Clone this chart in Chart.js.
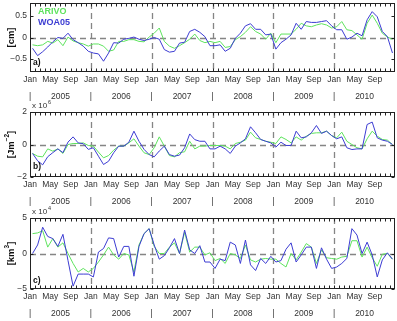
<!DOCTYPE html>
<html>
<head>
<meta charset="utf-8">
<script src="https://cdn.jsdelivr.net/npm/chart.js@4/dist/chart.umd.min.js"></script>
<style>
  body { margin: 0; background: #fff; }
  #wrap { position: relative; width: 397px; height: 321px; overflow: hidden; }
  canvas { position: absolute; left: 0; }
</style>
</head>
<body>
<div id="wrap">
  <canvas id="panelA" width="397" height="105" style="top:0px"></canvas>
  <canvas id="panelB" width="397" height="112" style="top:98px"></canvas>
  <canvas id="panelC" width="397" height="118" style="top:203px"></canvas>
</div>
<script>
// monthly values, Jan 2005 .. Dec 2010
const years = ['2005', '2006', '2007', '2008', '2009', '2010']
const monthLabels = ['Jan', 'May', 'Sep']

// a) sea level [cm]
const arivoA = [
  -0.17, -0.19, -0.17, -0.09, -0.13, -0.05, -0.19, 0.01, -0.08, -0.12, -0.15, -0.2,
  -0.15, -0.15, -0.2, -0.32, -0.29, -0.09, -0.09, -0.05, -0.05, -0.09, -0.1, 0.01,
  0.1, 0.22, -0.09, -0.2, -0.25, -0.19, -0.12, -0.04, 0.08, -0.07, -0.12, -0.09,
  -0.12, -0.09, -0.23, -0.21, -0.05, 0.02, 0.12, 0.25, 0.14, 0.08, -0.04, 0.1,
  -0.12, 0.08, 0.08, 0.08, 0.19, 0.33, 0.27, 0.25, 0.29, 0.32, 0.29, 0.22,
  0.25, 0.37, 0.18, 0.16, 0.06, -0.04, 0.33, 0.52, 0.33, 0.1, 0.01, -0.04
]
const woaA = [
  -0.25, -0.42, -0.33, -0.22, -0.1, 0.0, -0.02, 0.1, -0.05, -0.12, -0.2, -0.32,
  -0.36, -0.38, -0.55, -0.36, -0.12, -0.13, -0.04, -0.02, 0.01, -0.04, -0.07, -0.04,
  0.0, -0.04, -0.28, -0.34, -0.32, -0.13, -0.11, 0.14, 0.19, 0.12, 0.02, -0.19,
  -0.19, -0.17, -0.32, -0.25, -0.02, 0.1, 0.27, 0.32, 0.19, 0.19, 0.06, 0.08,
  -0.27, -0.12, -0.04, 0.06, 0.33, 0.19, 0.37, 0.35, 0.35, 0.37, 0.39, 0.27,
  0.18, 0.18, -0.04, 0.01, 0.1, 0.04, 0.41, 0.6, 0.48, 0.14, 0.02, -0.36
]

// b) heat content [J m^-2], x 10^6
const arivoB = [
  -0.55, -0.72, -0.76, -0.27, -0.41, -0.27, -0.55, 0.0, 0.06, 0.06, 0.1, -0.06,
  -0.1, -0.47, -0.82, -0.68, -0.35, -0.1, -0.1, 0.1, 0.35, -0.1, -0.51, -0.62,
  -0.2, 0.47, -0.1, -0.68, -0.76, -0.5, -0.45, 0.2, -0.27, -0.1, -0.1, -0.06,
  -0.06, -0.06, -0.1, -0.27, 0.06, 0.14, 0.27, 0.76, 0.41, 0.31, 0.2, 0.14,
  0.06, 0.47, 0.31, 0.1, 0.47, 0.27, 0.51, 0.68, 0.72, 0.72, 0.82, 0.55,
  0.41, 0.76, 0.2, 0.0, -0.2, -0.27, 0.35, 0.82, 0.51, 0.31, 0.27, 0.0
]
const woaB = [
  -0.55, -1.0, -1.25, -0.75, -0.5, -0.27, -0.5, 0.15, 0.47, 0.1, 0.05, -0.3,
  -0.2, -0.72, -1.23, -1.03, -0.51, -0.1, -0.1, 0.14, 0.82, 0.2, -0.3, -0.62,
  -0.76, -0.4, -0.1, -0.62, -0.72, -0.65, -0.2, 0.65, 0.3, 0.2, 0.2, -0.27,
  -0.27, -0.1, -0.27, -0.55, -0.1, 0.1, 0.35, 1.09, 0.72, 0.31, 0.2, 0.1,
  -0.16, 0.14, -0.06, -0.06, 0.82, 0.41, 0.47, 0.72, 1.17, 0.68, 0.82, 0.55,
  0.35, 0.47, -0.2, -0.31, -0.27, -0.27, 1.23, 1.38, 0.41, 0.27, 0.2, 0.0
]

// c) volume [km^3], x 10^4
const arivoC = [
  2.8, 2.9, 3.2, 0.9, 2.1, 0.9, 1.5, 0.0, -1.4, -2.6, -2.1, -2.6,
  -2.1, -1.2, -0.2, 0.9, -0.2, -0.8, 0.0, -0.2, -2.6, 1.2, 2.8, 3.5,
  1.0, 0.0, 0.0, 0.9, 1.5, 0.0, 3.0, 0.2, 0.9, 0.9, -0.2, 0.1,
  -1.0, -0.7, -1.4, 0.0, -0.2, -0.7, 1.2, -0.9, -1.2, -0.8, -0.7, -0.8,
  -0.8, -1.4, -1.9, 0.0, -0.9, 0.2, 1.4, 0.9, -1.4, 0.5, -0.6, -0.7,
  -0.8, -0.5, -0.4, 1.8, 1.8, -0.5, 0.9, -0.6, -1.8, -0.1, 0.0, -0.8
]
const woaC = [
  0.0, 1.2, 3.7, 2.4, 2.1, 1.0, 2.7, -1.0, -4.6, -2.9, -2.9, -2.9,
  -3.3, 0.2, 0.7, 2.2, 2.1, -0.5, 1.0, 1.0, -3.2, 1.0, 2.8, 3.5,
  1.2, -0.8, -0.3, 0.8, 2.1, 0.0, 3.3, 0.5, 0.0, 1.1, -1.2, -1.2,
  -2.1, -0.8, -1.0, 1.6, 1.2, -1.4, 1.9, -1.6, -2.4, -0.7, -1.4, -0.4,
  -1.2, -1.0, 0.6, 1.5, -1.2, -0.2, 0.9, 0.9, -2.1, 0.8, -0.8, -2.1,
  -1.9, -1.4, -0.7, 3.5, 2.6, 0.0, 1.6, -0.2, -3.3, -0.9, 0.1, -0.8
]

const GREEN = '#5ee35e'
const BLUE = '#3c3cd2'
const TEXT = '#333'
const FONT = '"Liberation Sans", Arial, sans-serif'

// axes box, inward ticks, dashed guides and all the text around a panel
const panelDecor = {
  id: 'panelDecor',
  beforeDatasetsDraw(chart, args, o) {
    const { ctx, chartArea: a, scales: { x, y } } = chart
    ctx.save()
    ctx.strokeStyle = '#858585'
    ctx.lineWidth = 1.3
    ctx.setLineDash([6, 4])
    const y0 = Math.round(y.getPixelForValue(0)) + 0.5
    ctx.beginPath(); ctx.moveTo(a.left, y0); ctx.lineTo(a.right, y0); ctx.stroke()
    for (let k = 1; k < years.length; k++) {
      const px = Math.round(x.getPixelForValue(k * 12)) + 0.5
      ctx.beginPath(); ctx.moveTo(px, a.top); ctx.lineTo(px, a.bottom); ctx.stroke()
    }
    ctx.restore()
  },
  afterDraw(chart, args, o) {
    const { ctx, chartArea: a, scales: { x, y } } = chart
    ctx.save()
    ctx.strokeStyle = '#222'
    ctx.lineWidth = 1
    const L = Math.round(a.left) + 0.5, R = Math.round(a.right) - 0.5
    const T = Math.round(a.top) + 0.5, B = Math.round(a.bottom) - 0.5
    ctx.strokeRect(L, T, R - L, B - T)
    ctx.beginPath()
    for (let m = 1; m < years.length * 12; m++) {
      const px = Math.round(x.getPixelForValue(m)) + 0.5
      ctx.moveTo(px, T); ctx.lineTo(px, T + 3)
      ctx.moveTo(px, B); ctx.lineTo(px, B - 3)
    }
    o.yTicks.forEach(v => {
      const py = Math.round(y.getPixelForValue(v)) + 0.5
      ctx.moveTo(L, py); ctx.lineTo(L + 3, py)
      ctx.moveTo(R, py); ctx.lineTo(R - 3, py)
    })
    ctx.stroke()

    ctx.fillStyle = TEXT
    ctx.font = '8.5px ' + FONT
    ctx.textAlign = 'right'
    ctx.textBaseline = 'middle'
    o.yTicks.forEach(v => {
      const s = String(v).replace('-', '\u2212')
      ctx.fillText(s, a.left - 3, y.getPixelForValue(v))
    })

    ctx.textAlign = 'center'
    for (let m = 0; m < years.length * 12; m += 4) {
      ctx.fillText(monthLabels[(m % 12) / 4], x.getPixelForValue(m), a.bottom + 8)
    }
    const yr = a.bottom + 25
    years.forEach((label, k) => {
      ctx.fillText('|', x.getPixelForValue(k * 12), yr)
      ctx.fillText(label, x.getPixelForValue(k * 12 + 6), yr)
    })

    if (o.exp) {
      ctx.textAlign = 'left'
      ctx.font = '8px ' + FONT
      ctx.fillText('x 10', a.left + 2, a.top - 6)
      const w = ctx.measureText('x 10').width
      ctx.font = '5.5px ' + FONT
      ctx.fillText(o.exp, a.left + 3 + w, a.top - 10)
    }

    // rotated unit label with superscript
    ctx.save()
    ctx.translate(11, (a.top + a.bottom) / 2)
    ctx.rotate(-Math.PI / 2)
    ctx.fillStyle = '#111'
    const big = 'bold 9.5px ' + FONT, small = 'bold 6.5px ' + FONT
    ctx.font = big
    const w1 = ctx.measureText(o.unit[0]).width, w3 = ctx.measureText(']').width
    ctx.font = small
    const w2 = o.unit[1] ? ctx.measureText(o.unit[1]).width : 0
    let cx = -(w1 + w2 + w3) / 2
    ctx.textAlign = 'left'
    ctx.font = big
    ctx.fillText(o.unit[0], cx, 0); cx += w1
    if (o.unit[1]) {
      ctx.font = small
      ctx.fillText(o.unit[1], cx, -4); cx += w2
    }
    ctx.font = big
    ctx.fillText(']', cx, 0)
    ctx.restore()

    ctx.textAlign = 'left'
    ctx.fillStyle = '#111'
    ctx.font = 'bold 8.5px ' + FONT
    ctx.fillText(o.letter, a.left + 3, a.bottom - o.letterOff)

    if (o.legend) {
      ctx.font = 'bold 9px ' + FONT
      ctx.fillStyle = GREEN
      ctx.fillText('ARIVO', a.left + 8, a.top + 9)
      ctx.fillStyle = BLUE
      ctx.fillText('WOA05', a.left + 8, a.top + 20)
    }
    ctx.restore()
  }
}

function makePanel(id, arivo, woa, range, pad, decor) {
  const toPts = arr => arr.map((v, i) => ({ x: i + 0.5, y: v }))
  return new Chart(document.getElementById(id), {
    type: 'line',
    data: {
      datasets: [
        { label: 'WOA05', data: toPts(woa), borderColor: BLUE, borderWidth: 1, pointRadius: 0, tension: 0 },
        { label: 'ARIVO', data: toPts(arivo), borderColor: GREEN, borderWidth: 1, pointRadius: 0, tension: 0 }
      ]
    },
    options: {
      responsive: false,
      animation: false,
      layout: { padding: pad },
      plugins: { legend: { display: false }, tooltip: { enabled: false }, panelDecor: decor },
      scales: {
        x: { type: 'linear', min: 0, max: years.length * 12, display: false },
        y: { min: range[0], max: range[1], display: false }
      }
    },
    plugins: [panelDecor]
  })
}

makePanel('panelA', arivoA, woaA, [-0.8, 0.8],
  { left: 30, right: 2, top: 3, bottom: 33 },
  { yTicks: [-0.5, 0, 0.5], unit: ['[cm', ''], letter: 'a)', letterOff: 9, legend: true })
makePanel('panelB', arivoB, woaB, [-2, 2],
  { left: 30, right: 2, top: 14, bottom: 33 },
  { yTicks: [-2, 0, 2], unit: ['[Jm', '\u22122'], letter: 'b)', letterOff: 10, exp: '6' })
makePanel('panelC', arivoC, woaC, [-5, 5],
  { left: 30, right: 2, top: 15, bottom: 32 },
  { yTicks: [-5, 0, 5], unit: ['[km', '3'], letter: 'c)', letterOff: 8, exp: '4' })
</script>
</body>
</html>
